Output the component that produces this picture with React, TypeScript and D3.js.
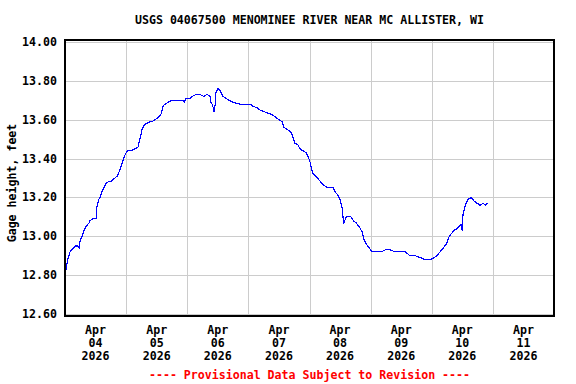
import React from "react";
import * as d3 from "d3";

const TITLE = "USGS 04067500 MENOMINEE RIVER NEAR MC ALLISTER, WI";
const Y_LABEL = "Gage height, feet";
const FOOTNOTE = "---- Provisional Data Subject to Revision ----";

// hours since Apr 04 2026 00:00
const HOURS = [
  0, 0.5, 1.25, 2, 3.25, 4, 5, 5.5, 6, 6.75,
  7.5, 8.25, 9.5, 9.75, 11, 12.25, 12.5, 13.25, 13.75, 14.5,
  15.25, 16, 17, 18, 18.75, 20.5, 21.5, 22.5, 23.25, 24,
  24.75, 26, 27.5, 28.75, 29, 29.75, 30.25, 31, 31.75, 33.5,
  34.25, 35.25, 36.5, 37.75, 38.5, 39.25, 40.5, 42, 43.5, 45.25,
  46.25, 46.75, 47.5, 49, 50, 51.5, 53, 54.5, 55.75, 57,
  57.25, 57.75, 58.25, 58.5, 59, 59.25, 60, 61, 61.25, 62,
  63.25, 64.5, 66, 68.75, 71, 72.75, 73.75, 75.5, 76.5, 78.5,
  80.5, 82, 84, 85.25, 86, 87.25, 88.5, 89.25, 90.25, 91.5,
  92.25, 93.5, 94.75, 95.5, 96.25, 96.75, 97.5, 98.5, 99.75, 101,
  102, 103.25, 105.25, 106, 107.25, 108, 108.75, 109.25, 109.5, 110.5,
  111.5, 112.25, 113.25, 114.25, 115.5, 116.75, 117.5, 118.25, 119.5, 120.5,
  121.75, 123, 124.25, 125.75, 127.75, 129.5, 131.5, 133.5, 135.5, 137.5,
  139.5, 141.5, 143.5, 145, 146, 147.25, 148.5, 149.75, 150.5, 151.5,
  152.75, 154, 154.75, 155.5, 156, 156.25, 156.75, 157.5, 158.25, 159.5,
  160.75, 161.75, 163, 164.25, 165, 165.75, 166.25,
];

const STAGE = [
  12.80, 12.84, 12.89, 12.92, 12.94, 12.95, 12.95, 12.94, 12.98, 13.00,
  13.03, 13.05, 13.07, 13.08, 13.09, 13.09, 13.15, 13.19, 13.20, 13.23,
  13.25, 13.27, 13.28, 13.28, 13.29, 13.31, 13.34, 13.38, 13.41, 13.43,
  13.44, 13.44, 13.45, 13.46, 13.48, 13.52, 13.55, 13.57, 13.58, 13.59,
  13.59, 13.60, 13.61, 13.63, 13.67, 13.68, 13.69, 13.70, 13.70, 13.70,
  13.70, 13.69, 13.71, 13.71, 13.72, 13.73, 13.73, 13.72, 13.73, 13.72,
  13.69, 13.68, 13.66, 13.64, 13.68, 13.74, 13.76, 13.75, 13.74, 13.72,
  13.71, 13.70, 13.69, 13.68, 13.68, 13.68, 13.67, 13.66, 13.65, 13.64,
  13.63, 13.62, 13.60, 13.59, 13.56, 13.55, 13.54, 13.52, 13.48, 13.47,
  13.45, 13.44, 13.43, 13.41, 13.38, 13.35, 13.32, 13.31, 13.29, 13.27,
  13.26, 13.25, 13.25, 13.23, 13.21, 13.19, 13.15, 13.09, 13.07, 13.10,
  13.10, 13.10, 13.08, 13.07, 13.05, 13.02, 12.98, 12.96, 12.94, 12.92,
  12.92, 12.92, 12.92, 12.93, 12.93, 12.92, 12.92, 12.92, 12.90, 12.90,
  12.89, 12.88, 12.88, 12.89, 12.90, 12.92, 12.94, 12.96, 12.99, 13.01,
  13.03, 13.04, 13.05, 13.06, 13.03, 13.11, 13.14, 13.17, 13.19, 13.20,
  13.18, 13.17, 13.16, 13.17, 13.16, 13.17, 13.17,
];

const Y_TICKS = [12.6, 12.8, 13.0, 13.2, 13.4, 13.6, 13.8, 14.0];
const DAY_MONTH = ["Apr", "Apr", "Apr", "Apr", "Apr", "Apr", "Apr", "Apr"];
const DAY_NUM = ["04", "05", "06", "07", "08", "09", "10", "11"];
const DAY_YEAR = ["2026", "2026", "2026", "2026", "2026", "2026", "2026", "2026"];

const W = 576;
const H = 384;
const LEFT = 65;
const RIGHT = 554;
const TOP = 40;
const BOTTOM = 316;

const FONT = {
  fontFamily: "'DejaVu Sans Mono', 'Liberation Mono', monospace",
  fontWeight: "bold" as const,
  fontSize: 11.6,
};

export default function App() {
  const x = d3.scaleLinear().domain([0, 24 * DAY_NUM.length]).range([LEFT, RIGHT]);
  const y = d3.scaleLinear().domain([12.6, 14.0]).range([314, 42]);

  const data = HOURS.map((h, i) => ({ h, v: STAGE[i] }));
  const line = d3
    .line<{ h: number; v: number }>()
    .x((d) => x(d.h))
    .y((d) => y(d.v));

  const dayGrid = d3.range(1, DAY_NUM.length).map((d) => d * 24);
  const cx = (LEFT + RIGHT) / 2;

  return (
    <svg
      width={W}
      height={H}
      viewBox={`0 0 ${W} ${H}`}
      style={{ position: "absolute", left: 0, top: 0, background: "#fff" }}
    >
      <rect x={0} y={0} width={W} height={H} fill="#fff" />
      <text x={cx} y={24} textAnchor="middle" fill="#000" style={FONT}>
        {TITLE}
      </text>

      {/* grid */}
      <g stroke="#cccccc" strokeWidth={1} shapeRendering="crispEdges">
        {Y_TICKS.map((t) => (
          <line key={t} x1={LEFT} x2={RIGHT} y1={Math.round(y(t)) + 0.5} y2={Math.round(y(t)) + 0.5} />
        ))}
        {dayGrid.map((h) => (
          <line key={h} x1={Math.round(x(h)) + 0.5} x2={Math.round(x(h)) + 0.5} y1={TOP} y2={BOTTOM} />
        ))}
      </g>

      {/* data */}
      <path
        d={line(data) || ""}
        fill="none"
        stroke="#0000ff"
        strokeWidth={1.2}
        shapeRendering="crispEdges"
      />

      {/* frame */}
      <rect
        x={LEFT}
        y={TOP}
        width={RIGHT - LEFT}
        height={BOTTOM - TOP}
        fill="none"
        stroke="#000"
        strokeWidth={2}
        shapeRendering="crispEdges"
      />

      {/* y tick labels */}
      {Y_TICKS.map((t) => (
        <text key={t} x={57} y={y(t) + 4} textAnchor="end" fill="#000" style={FONT}>
          {t.toFixed(2)}
        </text>
      ))}

      <text
        transform={`translate(16, 183) rotate(-90)`}
        textAnchor="middle"
        fill="#000"
        style={FONT}
      >
        {Y_LABEL}
      </text>

      {/* x labels */}
      {DAY_NUM.map((d, i) => {
        const xc = x(i * 24 + 12);
        return (
          <g key={d} fill="#000" style={FONT}>
            <text x={xc} y={334} textAnchor="middle">{DAY_MONTH[i]}</text>
            <text x={xc} y={347} textAnchor="middle">{d}</text>
            <text x={xc} y={360} textAnchor="middle">{DAY_YEAR[i]}</text>
          </g>
        );
      })}

      <text x={cx} y={379} textAnchor="middle" fill="#ff0000" style={FONT}>
        {FOOTNOTE}
      </text>
    </svg>
  );
}
